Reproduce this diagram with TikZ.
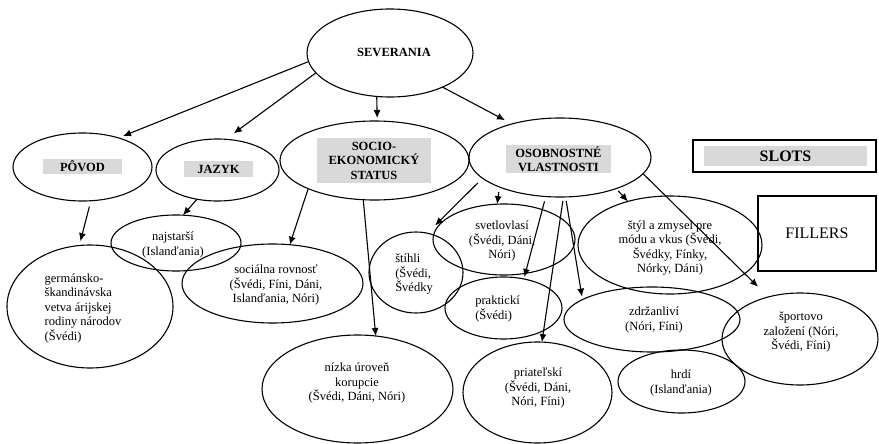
\documentclass[tikz,border=0pt]{standalone}
\usepackage{fontspec}
\setmainfont{Liberation Serif}
\usetikzlibrary{shapes.geometric,arrows.meta}
\newcommand\fsreg{\fontsize{12.5}{14.5}\selectfont}
\newcommand\fsbold{\fontsize{12.5}{14.5}\selectfont\bfseries}
\newcommand\fsbig{\fontsize{16}{18}\selectfont}
\definecolor{boxgray}{HTML}{D9D9D9}
\begin{document}
\begin{tikzpicture}[x=1pt,y=-1pt,
  ell/.style={draw, ellipse, line width=1.1pt, inner sep=0pt, outer sep=0pt},
  txt/.style={font=\fsreg, align=center, inner sep=0pt},
  txtl/.style={font=\fsreg, align=left, inner sep=0pt},
  lbl/.style={font=\fsbold, align=center, fill=boxgray, inner sep=0pt},
  rbox/.style={draw, line width=1.4pt, inner sep=0pt},
  arr/.style={-{Latex[length=8pt,width=7pt]}, line width=1.1pt}
]
\useasboundingbox (0,0) rectangle (879,444);

% ellipses
\node[ell, minimum width=166pt, minimum height=88pt] (sev) at (390,53) {};
\node[ell, minimum width=139pt, minimum height=68pt] (povod) at (82.5,167) {};
\node[ell, minimum width=123pt, minimum height=62pt] (jazyk) at (217.5,170) {};
\node[ell, minimum width=189pt, minimum height=79pt] (socio) at (374.5,160.5) {};
\node[ell, minimum width=182pt, minimum height=79pt] (osob) at (560,157.5) {};
\node[ell, minimum width=130pt, minimum height=56pt] (najst) at (176,243) {};
\node[ell, minimum width=166pt, minimum height=123pt] (germ) at (90,306.5) {};
\node[ell, minimum width=181pt, minimum height=79pt] (social) at (272.5,283.5) {};
\node[ell, minimum width=191pt, minimum height=108pt] (nizka) at (357.5,389) {};
\node[ell, minimum width=94pt, minimum height=81pt] (stihli) at (416,272.5) {};
\node[ell, minimum width=142pt, minimum height=71pt] (svetlo) at (504,239.5) {};
\node[ell, minimum width=117pt, minimum height=62pt] (prakt) at (503.5,308) {};
\node[ell, minimum width=149pt, minimum height=101pt] (priat) at (537.5,392.5) {};
\node[ell, minimum width=184pt, minimum height=98pt] (styl) at (670,245) {};
\node[ell, minimum width=176pt, minimum height=65pt] (zdrz) at (652,319.5) {};
\node[ell, minimum width=156pt, minimum height=92pt] (sport) at (800,339) {};
\node[ell, minimum width=127pt, minimum height=63pt] (hrdi) at (681.5,381.5) {};

% rectangles
\node[rbox, minimum width=183pt, minimum height=32pt] (slots) at (784.5,156) {};
\node[rbox, minimum width=118pt, minimum height=75pt, font=\fsbig] (fillers) at (817,233.5) {FILLERS};

% labels
\node[font=\fsbold, inner sep=0pt] (tsev) at (394,52) {SEVERANIA};
\node[lbl, minimum width=79pt, minimum height=15pt] (tpovod) at (82.5,166.5) {PÔVOD};
\node[lbl, minimum width=69pt, minimum height=16pt] (tjazyk) at (218.5,169) {JAZYK};
\node[lbl, minimum width=114pt, minimum height=45pt] (tsocio) at (374,160.5) {SOCIO-\\EKONOMICKÝ\\STATUS};
\node[lbl, minimum width=105pt, minimum height=28pt] (tosob) at (558.5,159) {OSOBNOSTNÉ\\VLASTNOSTI};
\node[lbl, font=\fsbig\bfseries, minimum width=163pt, minimum height=20pt] (tslots) at (785.5,156) {SLOTS};

% texts
\node[txt] (tnajst) at (173,245) {najstarší\\(Islanďania)};
\node[txtl] (tgerm) at (83,308) {germánsko-\\škandinávska\\vetva árijskej\\rodiny národov\\(Švédi)};
\node[txt] (tsocial) at (276,285) {sociálna rovnosť\\(Švédi, Fíni, Dáni,\\Islanďania, Nóri)};
\node[txt] (tnizka) at (357,383) {nízka úroveň\\korupcie\\(Švédi, Dáni, Nóri)};
\node[txtl] (tstihli) at (414,274) {štíhli\\(Švédi,\\Švédky};
\node[txt] (tsvetlo) at (502,241) {svetlovlasí\\(Švédi, Dáni,\\Nóri)};
\node[txtl] (tprakt) at (497.5,309) {praktickí\\(Švédi)};
\node[txt] (tpriat) at (538,388) {priateľskí\\(Švédi, Dáni,\\Nóri, Fíni)};
\node[txt] (tstyl) at (670,248) {štýl a zmysel pre\\módu a vkus (Švédi,\\Švédky, Fínky,\\Nórky, Dáni)};
\node[txt] (tzdrz) at (654,320) {zdržanliví\\(Nóri, Fíni)};
\node[txt] (tsport) at (801,332) {športovo\\založení (Nóri,\\Švédi, Fíni)};
\node[txt] (thrdi) at (681,383) {hrdí\\(Islanďania)};

% connectors
\draw[arr, shorten >=5pt] (sev.186) -- (povod.39.5);
\draw[arr, shorten >=10pt] (sev.195) -- (jazyk.75);
\draw[arr, shorten >=3pt] (sev.253.5) -- (socio.86);
\draw[arr, shorten >=8pt] (sev.327) -- (osob.145);
\draw[arr, shorten <=6pt, shorten >=4.5pt] (povod.284.5) -- (germ.100.5);
\draw[arr] (jazyk.235) -- (najst.76);
\draw[arr] (socio.203) -- (social.66);
\draw[arr] (socio.254.6) -- (nizka.71.6);
\draw[arr, shorten <=6.6pt, shorten >=11pt] (osob.195) -- (stihli.74.5);
\draw[arr, shorten <=5pt] (osob.206) -- (svetlo.101);
\draw[arr, shorten <=5pt, shorten >=2pt] (osob.250) -- (prakt.55);
\draw[arr, shorten <=4pt] (osob.275) -- (priat.85.5);
\draw[arr, shorten <=4pt, shorten >=3pt] (osob.278) -- (zdrz.164);
\draw[arr, shorten <=3pt] (osob.331) -- (styl.134);
\draw[arr, shorten >=14.5pt] (osob.349) -- (sport.127);
\end{tikzpicture}
\end{document}
